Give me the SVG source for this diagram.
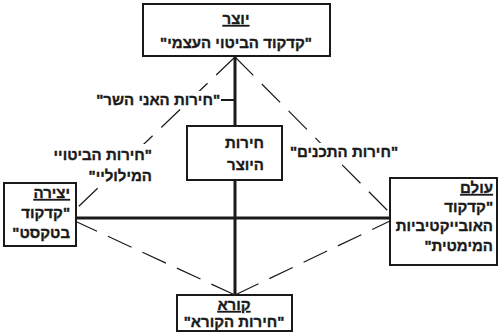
<svg xmlns="http://www.w3.org/2000/svg" width="500" height="336" viewBox="0 0 500 336">
<style>
.box{fill:#fff;stroke:#1a1a1a;stroke-width:2}
.t{font-family:"Liberation Sans","DejaVu Sans",sans-serif;font-size:15px;font-weight:bold;fill:#1a1a1a;stroke:#1a1a1a;stroke-width:0.35;direction:rtl;unicode-bidi:embed}
.c{text-anchor:middle}
.r{text-anchor:start}
.u{text-decoration:underline}
.thick{stroke:#1a1a1a;stroke-width:3;fill:none}
.dash{stroke:#1a1a1a;stroke-width:1.2;fill:none;stroke-dasharray:26 12}
.bg{fill:#fff}
</style>
<rect width="500" height="336" fill="#fff"/>
<g id="connectors">
<line class="thick" x1="235" y1="56" x2="235" y2="295"/>
<line class="thick" x1="76" y1="218" x2="390" y2="218"/>
<line x1="221" y1="100" x2="235" y2="100" stroke="#1a1a1a" stroke-width="2"/>
<line class="dash" x1="235" y1="57" x2="77" y2="208"/>
<line class="dash" x1="235" y1="57" x2="390" y2="213"/>
<line class="dash" x1="235" y1="295" x2="77" y2="222"/>
<line class="dash" x1="235" y1="295" x2="390" y2="221"/>
</g>
<g id="labels">
<g id="label-ani">
<rect class="bg" x="102" y="91" width="118" height="18"/>
<text class="t r" x="220" y="105">"חירות האני השר"</text>
</g>
<g id="label-bituy">
<rect class="bg" x="50" y="144" width="104" height="40"/>
<text class="t r" x="152" y="160">"חירות הביטויי</text>
<text class="t r" x="152" y="181">המילוליי"</text>
</g>
<g id="label-tchanim">
<rect class="bg" x="294" y="143" width="106" height="18"/>
<text class="t r" x="398" y="157">"חירות התכנים"</text>
</g>
</g>
<g id="node-yotzer">
<rect class="box" x="143" y="4" width="187" height="52"/>
<text class="t c u" x="236" y="24">יוצר</text>
<text class="t c" x="236" y="48">"קדקוד הביטוי העצמי"</text>
</g>
<g id="node-herut-hayotzer">
<rect class="box" x="187" y="126" width="95" height="54"/>
<text class="t r" x="264" y="148">חירות</text>
<text class="t r" x="264" y="170">היוצר</text>
</g>
<g id="node-yetzira">
<rect class="box" x="4" y="183" width="72" height="63"/>
<text class="t r u" x="70" y="198">יצירה</text>
<text class="t r" x="70" y="218">"קדקוד</text>
<text class="t r" x="70" y="238">בטקסט"</text>
</g>
<g id="node-olam">
<rect class="box" x="390" y="178" width="107" height="87"/>
<text class="t r u" x="493" y="193">עולם</text>
<text class="t r" x="493" y="212">"קדקוד</text>
<text class="t r" x="493" y="231">האובייקטיביות</text>
<text class="t r" x="493" y="251">המימטית"</text>
</g>
<g id="node-kore">
<rect class="box" x="177" y="295" width="115" height="36"/>
<text class="t c u" x="234" y="310">קורא</text>
<text class="t c" x="234" y="327">"חירות הקורא"</text>
</g>
</svg>
